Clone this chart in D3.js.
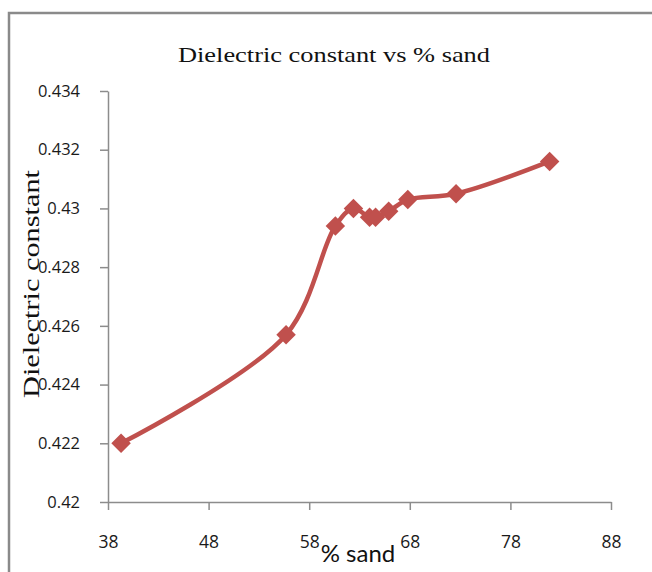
<!DOCTYPE html>
<html><head><meta charset="utf-8">
<script src="https://cdn.jsdelivr.net/npm/d3@7/dist/d3.min.js"></script>
<style>body{margin:0;background:#fff}svg{display:block}</style>
</head><body>
<svg id="c" width="652" height="572"></svg>
<script>
const sandPct = [39.3, 55.7, 60.6, 62.4, 64.0, 64.6, 65.9, 67.8, 72.6, 81.9];
const dielectric = [0.4220, 0.4257, 0.4294, 0.4300, 0.4297, 0.4297, 0.4299, 0.4303, 0.4305, 0.4316];
const xTicks = [38, 48, 58, 68, 78, 88];
const yTicks = [0.42, 0.422, 0.424, 0.426, 0.428, 0.43, 0.432, 0.434];
const titleText = "Dielectric constant vs % sand";
const xTitle = "% sand";
const yTitle = "Dielectric constant";

const svg = d3.select("#c");
const axisColor = "#8c8c8c";
const lineColor = "#C0504D";

// frame
svg.append("path").attr("d","M9,572 L9,13 L652,13").attr("fill","none").attr("stroke","#8a8a8a").attr("stroke-width",2.5);

const x = d3.scaleLinear().domain([38, 88]).range([108, 611]);
const y = d3.scaleLinear().domain([0.42, 0.434]).range([502, 91]);

const fmtY = d => { let s = d3.format(".3f")(d); return s.replace(/0+$/,""); };

const gy = svg.append("g").attr("transform","translate(108,0)")
  .call(d3.axisLeft(y).tickValues(yTicks).tickSize(8).tickFormat(fmtY).tickSizeOuter(0));
const gx = svg.append("g").attr("transform","translate(0,502)")
  .call(d3.axisBottom(x).tickValues(xTicks).tickSize(8).tickFormat(d3.format("d")).tickSizeOuter(0));
[gx, gy].forEach(g => {
  g.select(".domain").attr("stroke", axisColor).attr("stroke-width",1.5);
  g.selectAll(".tick line").attr("stroke", axisColor).attr("stroke-width",1.5);
  g.selectAll(".tick text").attr("fill","#1a1a1a").attr("font-family","'Open Sans', Lato, sans-serif");
});
gy.selectAll(".tick text").attr("x",-28).attr("font-size",16.5);
gx.selectAll(".tick text").attr("y",34).attr("font-size",17.5);

const pts = sandPct.map((v,i)=>[v, dielectric[i]]);
const line = d3.line().x(d=>x(d[0])).y(d=>y(d[1])).curve(d3.curveCatmullRom.alpha(0.5));
svg.append("path").datum(pts).attr("d", line).attr("fill","none")
  .attr("stroke", lineColor).attr("stroke-width",4.5).attr("stroke-linejoin","round");

svg.selectAll("path.m").data(pts).join("path").attr("class","m")
  .attr("d", d3.symbol(d3.symbolSquare, 190)())
  .attr("transform", d => `translate(${x(d[0])},${y(d[1])}) rotate(45)`)
  .attr("fill", lineColor);

svg.append("text").attr("x",334).attr("y",62).attr("text-anchor","middle")
  .attr("font-family","'Liberation Serif', 'Times New Roman', serif").attr("font-size",22)
  .attr("textLength",312).attr("lengthAdjust","spacingAndGlyphs")
  .attr("fill","#111").text(titleText);

svg.append("text").attr("x",358).attr("y",562).attr("text-anchor","middle")
  .attr("font-family","Lato, 'Open Sans', sans-serif").attr("font-size",24)
  .attr("fill","#111").text(xTitle);

svg.append("text").attr("transform","translate(39,284) rotate(-90)").attr("text-anchor","middle")
  .attr("font-family","'Liberation Serif', 'Times New Roman', serif").attr("font-size",23)
  .attr("textLength",228).attr("lengthAdjust","spacingAndGlyphs")
  .attr("fill","#111").text(yTitle);
</script>
</body></html>
